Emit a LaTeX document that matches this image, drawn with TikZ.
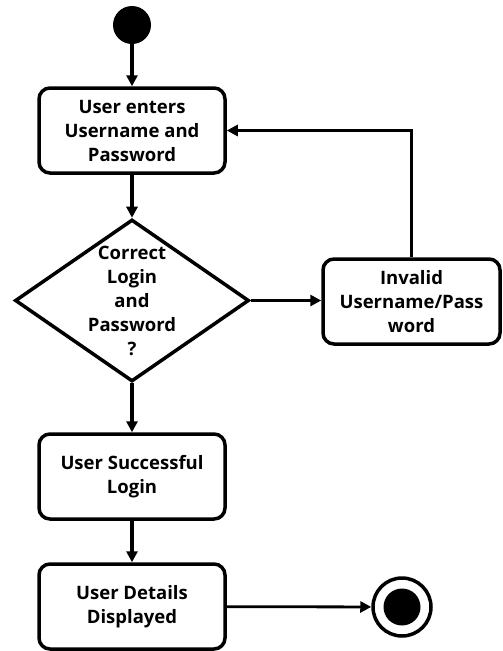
\documentclass[tikz,border=0pt]{standalone}
\usepackage{fontspec}
\setmainfont{Open Sans}
\usetikzlibrary{shapes.geometric,arrows.meta}

\begin{document}
\begin{tikzpicture}[x=1pt, y=-1pt,
		font=\bfseries\fontsize{18.5}{24}\selectfont,
		act/.style={draw, line width=3.5pt, rounded corners=11pt, align=center,
			minimum width=186pt, minimum height=85pt, inner sep=1pt},
		flow/.style={line width=3.2pt, -{Triangle[length=11pt, width=11pt]}}]
		\useasboundingbox (0,0) rectangle (503,651);
		
		% Start and end states
		\node[circle, fill, minimum size=38pt, inner sep=0] (start) at (132,25) {};
		\node[circle, draw, line width=3.5pt, minimum size=58pt, inner sep=0] (stop) at (402,607) {};
		\fill (stop) circle (18.5pt);
		
		% Activities
		\node[act] (enter) at (132,130.5) {User enters\\Username and\\Password};
		\node[draw, shape=diamond, line width=3.5pt, minimum width=234pt, minimum height=162pt,
			inner sep=0, label={[align=center]center:Correct\\Login\\and\\Password\\?}]
			(check) at (132,300.5) {};
		\node[act, minimum width=177pt] (invalid) at (411.5,301.5) {Invalid\\Username/Pass\\word};
		\node[act] (success) at (132,476.5) {User Successful\\Login};
		\node[act] (details) at (132,606.5) {User Details\\Displayed};
		
		% Transitions
		\draw[flow] (start) -- (enter);
		\draw[flow] (enter) -- (check);
		\draw[flow] (check) -- (check -| invalid.west);
		\draw[flow] (invalid.north) |- (enter.east);
		\draw[flow] (check) -- (success);
		\draw[flow] (success) -- (details);
		\draw[flow, line width=2.8pt] (details) -- (stop);
	\end{tikzpicture}
\end{document}
